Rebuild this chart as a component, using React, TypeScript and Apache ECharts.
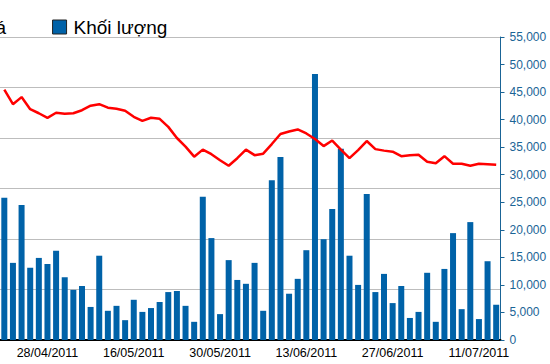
import { useEffect, useRef } from "react";
import * as echarts from "echarts";

const dates = [
  "21/04/2011", "22/04/2011", "25/04/2011", "26/04/2011", "27/04/2011", "28/04/2011", "29/04/2011",
  "04/05/2011", "05/05/2011", "06/05/2011", "09/05/2011", "10/05/2011", "11/05/2011", "12/05/2011",
  "13/05/2011", "16/05/2011", "17/05/2011", "18/05/2011", "19/05/2011", "20/05/2011", "23/05/2011",
  "24/05/2011", "25/05/2011", "26/05/2011", "27/05/2011", "30/05/2011", "31/05/2011",
  "01/06/2011", "02/06/2011", "03/06/2011", "06/06/2011", "07/06/2011", "08/06/2011", "09/06/2011",
  "10/06/2011", "13/06/2011", "14/06/2011", "15/06/2011", "16/06/2011", "17/06/2011", "20/06/2011",
  "21/06/2011", "22/06/2011", "23/06/2011", "24/06/2011", "27/06/2011", "28/06/2011", "29/06/2011",
  "30/06/2011", "01/07/2011", "04/07/2011", "05/07/2011", "06/07/2011", "07/07/2011", "08/07/2011",
  "11/07/2011", "12/07/2011", "13/07/2011",
];

const volume = [
  25800, 14000, 24500, 13100, 14900, 13800, 16200, 11400, 9100, 9800,
  6000, 15300, 5300, 6200, 3600, 7300, 5100, 5800, 6900, 8700,
  8900, 6200, 3300, 26000, 18500, 4700, 14500, 10900, 10200, 14000,
  5300, 29000, 33200, 8400, 11100, 16300, 48300, 18300, 23800, 34700,
  15300, 10000, 26500, 8700, 12000, 6700, 9800, 4000, 5100, 12200,
  3300, 12900, 19400, 5600, 21400, 3800, 14300, 6400,
];

const price = [
  49.6, 46.7, 48.1, 45.7, 44.9, 44.0, 45.0, 44.8, 44.9, 45.5,
  46.4, 46.7, 46.0, 45.8, 45.4, 44.2, 43.4, 44.0, 43.8, 42.2,
  40.0, 38.3, 36.3, 37.7, 36.8, 35.6, 34.5, 36.0, 37.7, 36.6,
  36.9, 38.8, 40.8, 41.3, 41.7, 40.9, 39.8, 38.4, 39.5, 37.7,
  36.0, 37.6, 39.4, 37.8, 37.5, 37.3, 36.4, 36.6, 36.7, 35.3,
  35.0, 36.4, 34.9, 34.9, 34.5, 34.9, 34.8, 34.7,
];

const FONT = "'Liberation Sans', Arial, sans-serif";
const BLUE_AXIS = "#1a6496";
const BAR_COLOR = "#0062a8";

export default function App() {
  const ref = useRef<HTMLDivElement>(null);
  useEffect(() => {
    if (!ref.current) return;
    const chart = echarts.init(ref.current, null, { renderer: "svg" });
    const shown = (i: number) => i % 10 === 5;
    chart.setOption({
      animation: false,
      backgroundColor: "#ffffff",
      textStyle: { fontFamily: FONT },
      legend: {
        data: [
          { name: "Giá", icon: "rect", itemStyle: { color: "#ff0000" } },
          { name: "Khối lượng", icon: "rect", itemStyle: { color: BAR_COLOR, borderColor: "#222", borderWidth: 1 } },
        ],
        left: -44.5,
        top: 17.5,
        padding: 0,
        itemWidth: 14,
        itemHeight: 14,
        itemGap: 46,
        selectedMode: false,
        textStyle: { fontSize: 19, color: "#000", fontFamily: FONT, padding: [0, 0, 0, 2] },
      },
      grid: { left: -2, right: 49.5, top: 37, bottom: 24, containLabel: false },
      xAxis: [
        {
          type: "category",
          data: dates,
          boundaryGap: true,
          axisLine: { lineStyle: { color: "#000", width: 1 } },
          axisTick: { interval: (i: number) => shown(i), alignWithLabel: true, length: 5, lineStyle: { color: "#000" } },
          axisLabel: { interval: (i: number) => shown(i), color: "#000", fontSize: 12.5, margin: 6, fontFamily: FONT },
          splitLine: { show: false },
        },
        {
          type: "category",
          data: dates,
          position: "top",
          axisLine: { lineStyle: { color: "#000", width: 2 } },
          axisTick: { show: false },
          axisLabel: { show: false },
          splitLine: { show: false },
        },
      ],
      yAxis: [
        {
          type: "value",
          position: "left",
          min: 0,
          max: 60,
          interval: 10,
          axisLine: { show: false },
          axisTick: { show: false },
          axisLabel: { show: false },
          splitLine: { show: true, lineStyle: { color: "#bdbdbd", width: 1 } },
        },
        {
          type: "value",
          position: "right",
          min: 0,
          max: 55000,
          interval: 5000,
          axisLine: { show: true, lineStyle: { color: BLUE_AXIS, width: 1 } },
          axisTick: { show: true, length: 4, lineStyle: { color: BLUE_AXIS } },
          axisLabel: { color: BLUE_AXIS, fontSize: 12, margin: 9, fontFamily: FONT },
          splitLine: { show: false },
        },
      ],
      series: [
        {
          name: "Khối lượng",
          type: "bar",
          xAxisIndex: 0,
          yAxisIndex: 1,
          data: volume,
          barWidth: 6,
          itemStyle: { color: BAR_COLOR },
        },
        {
          name: "Giá",
          type: "line",
          xAxisIndex: 0,
          yAxisIndex: 0,
          data: price,
          symbol: "none",
          lineStyle: { color: "#ff0000", width: 2.5 },
          itemStyle: { color: "#ff0000" },
        },
      ],
    });
    return () => chart.dispose();
  }, []);
  return (
    <div
      ref={ref}
      style={{ position: "fixed", left: 0, top: 0, width: 550, height: 364 }}
    />
  );
}
